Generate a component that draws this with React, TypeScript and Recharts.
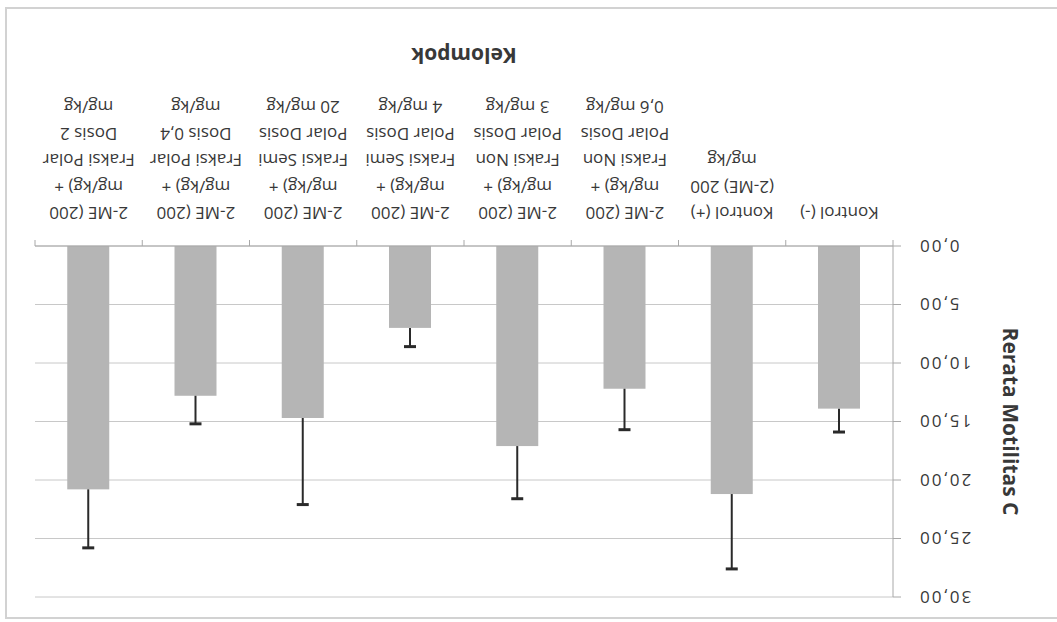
import { BarChart, Bar, XAxis, YAxis, CartesianGrid, Label } from "recharts";

// group labels, one entry per wrapped line
const groupLines: string[][] = [
  ["Kontrol (-)"],
  ["Kontrol (+)", "(2-ME) 200", "mg/kg"],
  ["2-ME (200", "mg/kg) +", "Fraksi Non", "Polar Dosis", "0,6 mg/kg"],
  ["2-ME (200", "mg/kg) +", "Fraksi Non", "Polar Dosis", "3 mg/kg"],
  ["2-ME (200", "mg/kg) +", "Fraksi Semi", "Polar Dosis", "4 mg/kg"],
  ["2-ME (200", "mg/kg) +", "Fraksi Semi", "Polar Dosis", "20 mg/kg"],
  ["2-ME (200", "mg/kg) +", "Fraksi Polar", "Dosis 0,4", "mg/kg"],
  ["2-ME (200", "mg/kg) +", "Fraksi Polar", "Dosis 2", "mg/kg"],
];
const meanValues = [13.9, 21.2, 12.2, 17.1, 7.0, 14.7, 12.8, 20.8];
const sdValues = [2.0, 6.4, 3.5, 4.5, 1.6, 7.4, 2.4, 5.0];
const yTicks = [0, 5, 10, 15, 20, 25, 30];

const data = groupLines.map((lines, i) => ({
  name: lines.join(" "),
  mean: meanValues[i],
  sd: sdValues[i],
}));

const BAR_FILL = "#b5b5b5";
const AXIS = "#a8a8a8";
const GRID = "#c8c8c8";
const TEXT = "#383838";
const FONT = "'Open Sans', sans-serif";

// bar plus a one-sided (upper) whisker, sized from the bar's own scale
const BarWithWhisker = (props: any) => {
  const { x, y, width, height, payload } = props;
  if (!height) return null;
  const perUnit = height / payload.mean;
  const top = y - payload.sd * perUnit;
  const cx = x + width / 2;
  return (
    <g>
      <rect x={x} y={y} width={width} height={height} fill={BAR_FILL} />
      <line x1={cx} x2={cx} y1={y} y2={top} stroke="#2a2a2a" strokeWidth={2} />
      <line x1={cx - 6} x2={cx + 6} y1={top} y2={top} stroke="#2a2a2a" strokeWidth={3} />
    </g>
  );
};

const GroupTick = (props: any) => {
  const { x, y, payload, index } = props;
  const half = payload.offset || 53.6;
  const lines = groupLines[index] || [];
  return (
    <g>
      <line x1={x - half} x2={x - half} y1={y} y2={y + 6} stroke={AXIS} />
      {index === groupLines.length - 1 && (
        <line x1={x + half} x2={x + half} y1={y} y2={y + 6} stroke={AXIS} />
      )}
      <text textAnchor="middle" fontFamily={FONT} fontSize={17} fill={TEXT}>
        {lines.map((l, i) => (
          <tspan key={i} x={x} y={y + 39 + i * 26.5}>
            {l}
          </tspan>
        ))}
      </text>
    </g>
  );
};

export default function App() {
  return (
    <div
      style={{
        position: "absolute",
        left: 0,
        top: 0,
        width: 1057,
        height: 622,
        overflow: "hidden",
        background: "#fff",
        transform: "rotate(180deg)",
      }}
    >
      <div
        style={{
          position: "absolute",
          left: -5,
          top: 3,
          width: 1057,
          height: 612,
          border: "2px solid #d2d2d2",
          boxSizing: "border-box",
        }}
      />
      <BarChart
        width={1057}
        height={622}
        data={data}
        margin={{ top: 25, right: 35, left: 30, bottom: 0 }}
        barSize={42}
      >
        <CartesianGrid vertical={false} stroke={GRID} />
        <XAxis
          dataKey="name"
          interval={0}
          height={246}
          tickSize={0}
          tickMargin={0}
          tickLine={false}
          axisLine={{ stroke: AXIS }}
          tick={<GroupTick />}
        >
          <Label
            content={({ viewBox }: any) => (
              <text
                x={viewBox.x + viewBox.width / 2}
                y={574}
                textAnchor="middle"
                fontFamily={FONT}
                fontWeight={700}
                fontSize={21}
                fill={TEXT}
              >
                Kelompok
              </text>
            )}
          />
        </XAxis>
        <YAxis
          width={134}
          domain={[0, 30]}
          ticks={yTicks}
          tickSize={8}
          tickMargin={17}
          tickLine={{ stroke: AXIS }}
          axisLine={{ stroke: AXIS }}
          tickFormatter={(v: number) => v.toFixed(2).replace(".", ",")}
          tick={{ fontFamily: FONT, fontSize: 17, fill: TEXT, letterSpacing: 2 }}
        >
          <Label
            content={({ viewBox }: any) => {
              const lx = viewBox.x + 24;
              const ly = viewBox.y + viewBox.height / 2;
              return (
                <text
                  x={lx}
                  y={ly}
                  transform={`rotate(-90, ${lx}, ${ly})`}
                  textAnchor="middle"
                  fontFamily={FONT}
                  fontWeight={700}
                  fontSize={21}
                  fill={TEXT}
                >
                  Rerata Motilitas C
                </text>
              );
            }}
          />
        </YAxis>
        <Bar dataKey="mean" shape={<BarWithWhisker />} isAnimationActive={false} />
      </BarChart>
    </div>
  );
}
